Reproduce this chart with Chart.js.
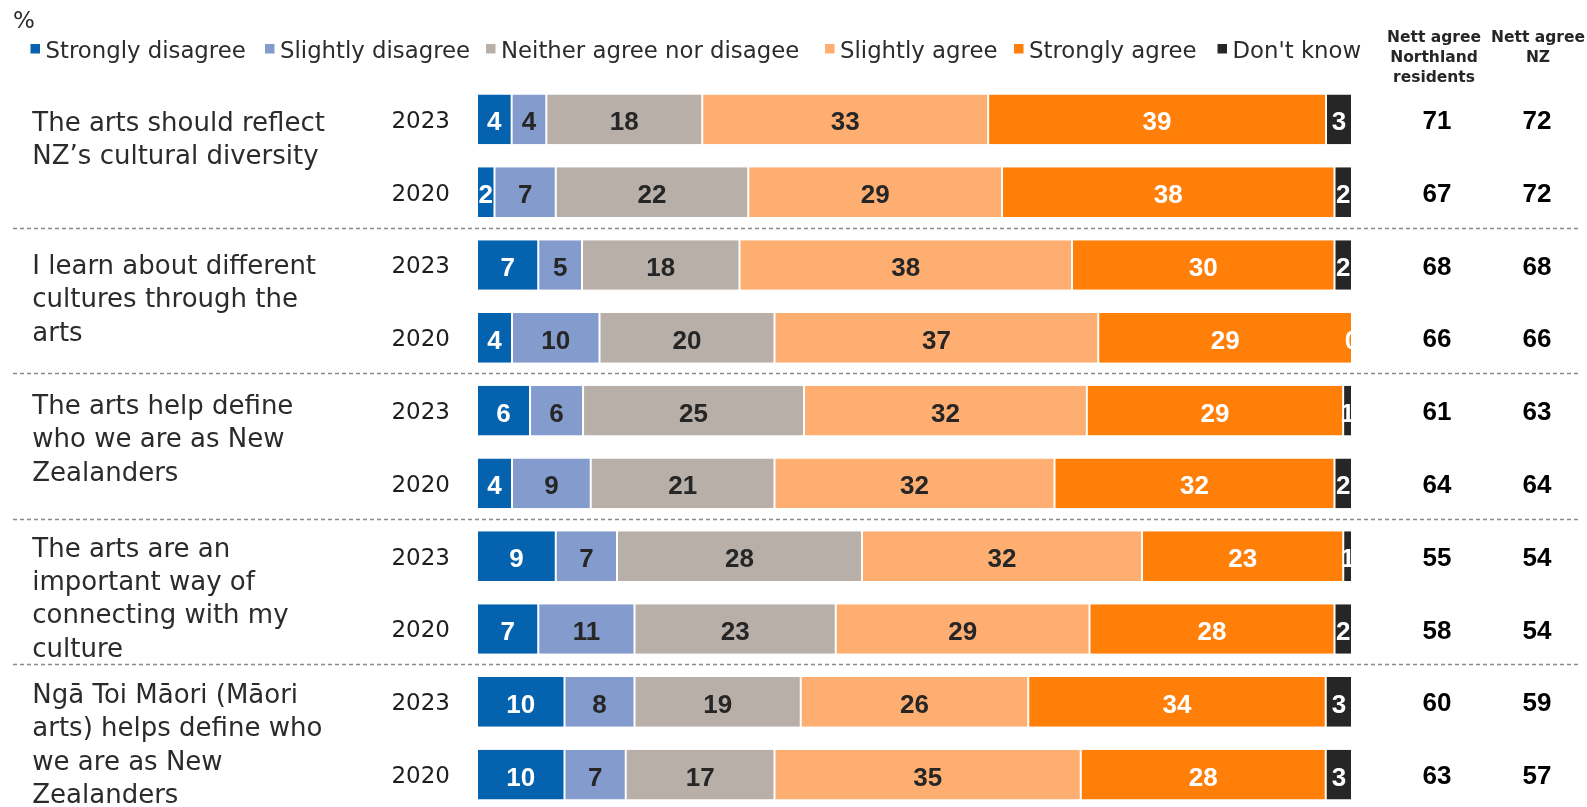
<!DOCTYPE html>
<html>
<head>
<meta charset="utf-8">
<script src="https://cdn.jsdelivr.net/npm/chart.js@4.4.1/dist/chart.umd.min.js"></script>
<style>
  html, body { margin: 0; padding: 0; background: #fff; overflow: hidden; }
  #wrap { position: relative; width: 1587px; height: 812px; }
</style>
</head>
<body>
<div id="wrap"><canvas id="c" width="1587" height="812"></canvas></div>
<script>
// ---------- DATA ----------
const statements = [
  ['The arts should reflect', 'NZ\u2019s cultural diversity'],
  ['I learn about different', 'cultures through the', 'arts'],
  ['The arts help define', 'who we are as New', 'Zealanders'],
  ['The arts are an', 'important way of', 'connecting with my', 'culture'],
  ['Ng\u0101 Toi M\u0101ori (M\u0101ori', 'arts) helps define who', 'we are as New', 'Zealanders']
];
const years = ['2023', '2020'];
const seriesNames = ['Strongly disagree', 'Slightly disagree', 'Neither agree nor disagee', 'Slightly agree', 'Strongly agree', "Don't know"];

const stronglyDisagree = [4, 2, 7, 4, 6, 4, 9, 7, 10, 10];
const slightlyDisagree = [4, 7, 5, 10, 6, 9, 7, 11, 8, 7];
const neither          = [18, 22, 18, 20, 25, 21, 28, 23, 19, 17];
const slightlyAgree    = [33, 29, 38, 37, 32, 32, 32, 29, 26, 35];
const stronglyAgree    = [39, 38, 30, 29, 29, 32, 23, 28, 34, 28];
const dontKnow         = [3, 2, 2, 0, 1, 2, 1, 2, 3, 3];

const nettNorthland = [71, 67, 68, 66, 61, 64, 55, 58, 60, 63];
const nettNZ        = [72, 72, 68, 66, 63, 64, 54, 54, 59, 57];

const headerNorthland = ['Nett agree', 'Northland', 'residents'];
const headerNZ = ['Nett agree', 'NZ'];

// ---------- STYLE ----------
const colors = ['#0562AE', '#849CCD', '#B8AFA9', '#FFAE72', '#FF7F09', '#262626'];
const labelColors = ['#ffffff', '#262626', '#262626', '#262626', '#ffffff', '#ffffff'];
const textColor = '#2b2b2b';
const FONT = '"DejaVu Sans", sans-serif';
const NUMFONT = '"Liberation Sans", Arial, sans-serif';
const groupTextOffsets = [11.5, 9, 3.5, 0.5, 1.3];
const legendX = [30.5, 265, 486, 825, 1014, 1217.5];

// ---------- BUILD ----------
const rawSeries = [stronglyDisagree, slightlyDisagree, neither, slightlyAgree, stronglyAgree, dontKnow];
const rowLabels = statements.flatMap(() => years.map(y => y));
const rowTotals = rowLabels.map((_, i) => rawSeries.reduce((a, s) => a + s[i], 0));

const datasets = rawSeries.map((vals, d) => ({
  label: seriesNames[d],
  data: vals.map((v, i) => v / rowTotals[i] * 100),
  raw: vals,
  backgroundColor: colors[d],
  borderColor: '#ffffff',
  borderWidth: { left: 1, right: 1, top: 0, bottom: 0 },
  borderSkipped: false,
  barPercentage: 0.683,
  categoryPercentage: 1.0
}));

const overlay = {
  id: 'overlay',
  afterDatasetsDraw(chart) {
    const ctx = chart.ctx, area = chart.chartArea;
    ctx.save();
    ctx.beginPath();
    ctx.rect(area.left, area.top, area.right - area.left, area.bottom - area.top);
    ctx.clip();
    ctx.font = 'bold 26px ' + NUMFONT;
    ctx.textAlign = 'center';
    ctx.textBaseline = 'alphabetic';
    chart.data.datasets.forEach((ds, d) => {
      const meta = chart.getDatasetMeta(d);
      meta.data.forEach((el, i) => {
        const cx = (el.x + el.base) / 2;
        ctx.fillStyle = labelColors[d];
        ctx.fillText(String(ds.raw[i]), cx, el.y + 11);
      });
    });
    ctx.restore();
  },
  afterDraw(chart) {
    const ctx = chart.ctx;
    const yScale = chart.scales.y;
    ctx.save();

    // "%" caption
    ctx.fillStyle = textColor;
    ctx.font = '23px ' + FONT;
    ctx.textAlign = 'left';
    ctx.textBaseline = 'alphabetic';
    ctx.fillText('%', 13, 27.5);

    // legend
    ctx.font = '22.8px ' + FONT;
    seriesNames.forEach((name, d) => {
      const lx = legendX[d];
      ctx.fillStyle = colors[d];
      ctx.fillRect(lx, 44, 9.5, 9.5);
      ctx.fillStyle = textColor;
      ctx.fillText(name, lx + 15, 57.5);
    });

    // column headers
    ctx.font = 'bold 15.5px ' + FONT;
    ctx.textAlign = 'center';
    ctx.fillStyle = '#262626';
    headerNorthland.forEach((t, k) => ctx.fillText(t, 1434, 41.7 + k * 20));
    headerNZ.forEach((t, k) => ctx.fillText(t, 1538, 41.7 + k * 20));

    // years & nett values
    rowLabels.forEach((yr, i) => {
      const y = yScale.getPixelForValue(i);
      ctx.font = '23px ' + FONT;
      ctx.textAlign = 'right';
      ctx.fillStyle = '#1e1e1e';
      ctx.fillText(yr, 450, y + 8.3);
      ctx.font = 'bold 26px ' + NUMFONT;
      ctx.textAlign = 'center';
      ctx.fillStyle = '#000000';
      ctx.fillText(String(nettNorthland[i]), 1437, y + 9.5);
      ctx.fillText(String(nettNZ[i]), 1537, y + 9.5);
    });

    // statements
    ctx.font = '26px ' + FONT;
    ctx.textAlign = 'left';
    ctx.fillStyle = textColor;
    statements.forEach((lines, g) => {
      const y0 = yScale.getPixelForValue(g * years.length) + groupTextOffsets[g];
      lines.forEach((t, k) => ctx.fillText(t, 32.3, y0 + k * 33.3));
    });

    // separators
    ctx.strokeStyle = '#8a8a8a';
    ctx.lineWidth = 1.3;
    ctx.setLineDash([4, 3]);
    for (let g = 1; g < statements.length; g++) {
      const i = g * years.length;
      const y = Math.round((yScale.getPixelForValue(i - 1) + yScale.getPixelForValue(i)) / 2 - 1) + 0.5;
      ctx.beginPath();
      ctx.moveTo(13, y);
      ctx.lineTo(1578, y);
      ctx.stroke();
    }
    ctx.restore();
  }
};

new Chart(document.getElementById('c'), {
  type: 'bar',
  data: { labels: rowLabels, datasets },
  options: {
    indexAxis: 'y',
    responsive: false,
    animation: false,
    layout: { padding: { left: 477, right: 235, top: 83, bottom: 1 } },
    scales: {
      x: { stacked: true, min: 0, max: 100, display: false },
      y: { stacked: true, display: false, offset: true }
    },
    plugins: { legend: { display: false }, tooltip: { enabled: false } }
  },
  plugins: [overlay]
});
</script>
</body>
</html>
